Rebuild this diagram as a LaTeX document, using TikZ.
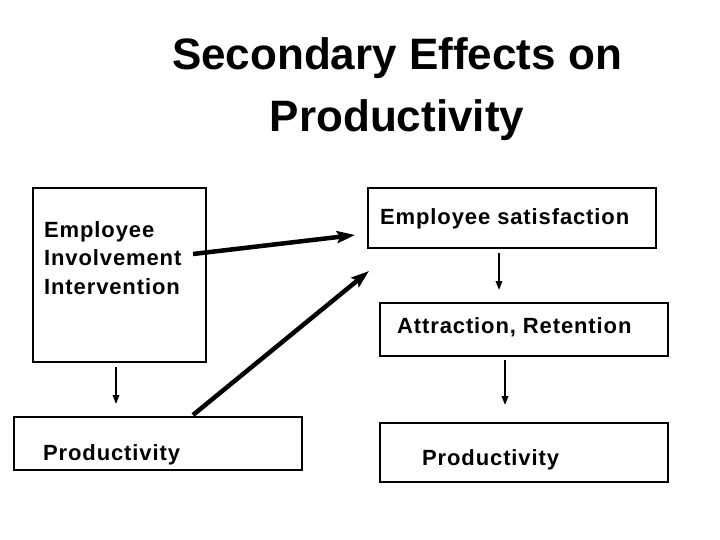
\documentclass[tikz,border=0pt]{standalone}
\usepackage{fontspec}
\setmainfont{Liberation Sans}
\newfontfamily\boxfont[LetterSpace=4]{Liberation Sans}
\usetikzlibrary{arrows.meta}
\tikzset{
  box/.style={draw=black, line width=1.8pt, rectangle, inner sep=0pt, anchor=north west},
  lbl/.style={anchor=base west, inner sep=0pt, font=\boxfont\fontsize{22}{28}\selectfont\bfseries},
  thin/.style={line width=1.8pt, -{Triangle[length=9pt,width=6.5pt]}},
  thick/.style={line width=4.5pt, -{Stealth[length=18pt,width=12pt,inset=3pt]}}
}
\begin{document}
\begin{tikzpicture}[x=1pt,y=-1pt]
\useasboundingbox (0,0) rectangle (720,540);
% title
\node[anchor=base, inner sep=0pt, font=\fontsize{44}{62}\selectfont\bfseries] (t1) at (397,70) {Secondary Effects on};
\node[anchor=base, inner sep=0pt, font=\fontsize{44}{62}\selectfont\bfseries] (t2) at (397,132) {Productivity};
% boxes
\node[box, minimum width=173pt, minimum height=174pt] (eii) at (32,187) {};
\node[box, minimum width=288pt, minimum height=53pt] (prodL) at (13,416) {};
\node[box, minimum width=288pt, minimum height=60pt] (es) at (367,187) {};
\node[box, minimum width=288pt, minimum height=53pt] (ar) at (379,302) {};
\node[box, minimum width=288pt, minimum height=59pt] (prodR) at (379,422) {};
% texts
\node[lbl] (e1) at (44,237) {Employee};
\node[lbl] (e2) at (44,265) {Involvement};
\node[lbl] (e3) at (44,294) {Intervention};
\node[lbl] (pl) at (43,460) {Productivity};
\node[lbl] (est) at (380,225) {Employee satisfaction};
\node[lbl] (art) at (397,333) {Attraction, Retention};
\node[lbl] (prt) at (422,465) {Productivity};
% arrow end points
\coordinate (a1s) at (116,367);
\coordinate (a1e) at (116,404);
\coordinate (a2s) at (499,253);
\coordinate (a2e) at (499,290);
\coordinate (a3s) at (505,360);
\coordinate (a3e) at (505,405);
\coordinate (b1s) at (193,254);
\coordinate (b1e) at (355,235);
\coordinate (b2s) at (193,415);
\coordinate (b2e) at (369,271);
% connectors
\draw[thin] (a1s) -- (a1e);
\draw[thin] (a2s) -- (a2e);
\draw[thin] (a3s) -- (a3e);
\draw[thick] (b1s) -- (b1e);
\draw[thick] (b2s) -- (b2e);
\end{tikzpicture}
\end{document}
